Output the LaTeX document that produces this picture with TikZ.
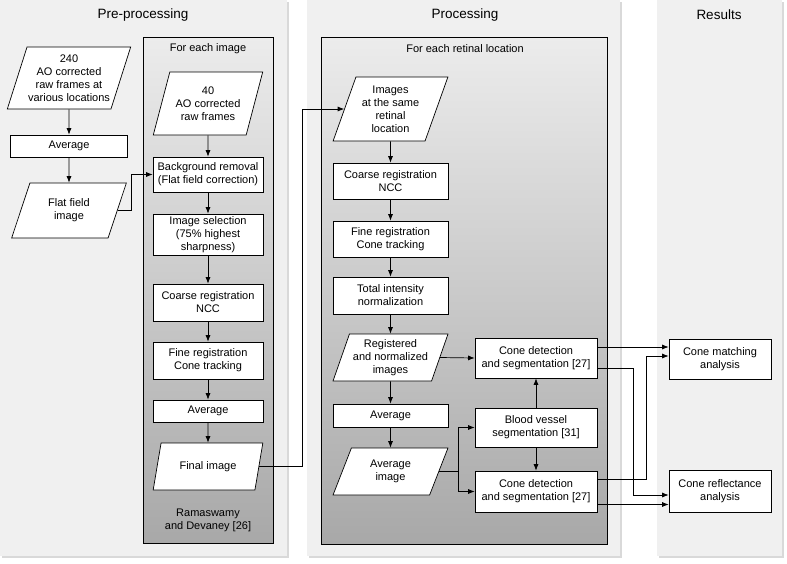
\documentclass[tikz,border=0pt]{standalone}
\usepackage{fontspec}
\setmainfont{Liberation Sans}
\usepackage{xcolor}
\definecolor{panel_gray}{RGB}{240,240,240}
\definecolor{shade_top}{RGB}{236,236,236}
\definecolor{shade_bottom}{RGB}{168,168,168}
\usetikzlibrary{shapes.geometric,arrows.meta,shadows}

\tikzset{
  proc_box/.style={draw, fill=white, line width=0.7pt, align=center, inner sep=1pt,
    font=\fontsize{11}{13}\selectfont},
  data_box/.style={proc_box, trapezium, trapezium left angle=68, trapezium right angle=112,
    trapezium stretches=true},
  arr/.style={-{Latex[length=6.5pt,width=5pt]}, line width=0.7pt},
  panel/.style={fill=panel_gray, drop shadow={shadow xshift=2pt, shadow yshift=-2pt, opacity=0.3}},
  loop_box/.style={draw, line width=0.7pt, top color=shade_top, bottom color=shade_bottom},
}

\begin{document}
\begin{tikzpicture}[x=1pt,y=-1pt]
\useasboundingbox (0,0) rectangle (787,563);

% panels
\fill[panel] (0,0) rectangle (287,556);
\fill[panel] (307,0) rectangle (620,556);
\fill[panel] (657,0) rectangle (782,556);
\draw[loop_box] (143,37) rectangle (273,543);
\draw[loop_box] (321,37) rectangle (607,544);

\draw (143,15) node (pre_title) {\fontsize{13.5}{16}\selectfont Pre-processing};
\draw (465,15) node (proc_title) {\fontsize{13.5}{16}\selectfont Processing};
\draw (719,15) node (res_title) {\fontsize{13.5}{16}\selectfont Results};
\draw (208,49) node (img_title) {\fontsize{11}{13}\selectfont For each image};
\draw (465,49) node (loc_title) {\fontsize{11}{13}\selectfont For each retinal location};

% pre-processing
\node[data_box, minimum width=116pt, minimum height=62pt] (raw240) at (69,78) {240\\AO corrected\\raw frames at\\various locations};
\node[proc_box, minimum width=117pt, minimum height=22pt] (avg_pre) at (69,146) {Average};
\node[data_box, minimum width=115pt, minimum height=55pt] (flat) at (69,210.5) {Flat field\\image};

\node[data_box, minimum width=110pt, minimum height=63pt] (raw40) at (208,103.5) {40\\AO corrected\\raw frames};
\node[proc_box, minimum width=110pt, minimum height=35pt] (bg_rem) at (208,174.5) {Background removal\\(Flat field correction)};
\node[proc_box, minimum width=110pt, minimum height=41pt] (img_sel) at (208,234.5) {Image selection\\(75\% highest\\sharpness)};
\node[proc_box, minimum width=110pt, minimum height=37pt] (coarse_pre) at (208,302.5) {Coarse registration\\NCC};
\node[proc_box, minimum width=110pt, minimum height=37pt] (fine_pre) at (208,360.5) {Fine registration\\Cone tracking};
\node[proc_box, minimum width=110pt, minimum height=22pt] (avg_img_pre) at (208,411) {Average};
\node[data_box, minimum width=110pt, minimum height=47pt] (final) at (208,466.5) {Final image};
\draw (208,520) node[align=center, font=\fontsize{11}{13}\selectfont] (ref26) {Ramaswamy\\and Devaney [26]};

% processing
\node[data_box, minimum width=115pt, minimum height=64pt] (same_loc) at (390.5,109) {Images\\at the same\\retinal\\location};
\node[proc_box, minimum width=115pt, minimum height=36pt] (coarse_proc) at (390.5,181) {Coarse registration\\NCC};
\node[proc_box, minimum width=115pt, minimum height=36pt] (fine_proc) at (390.5,239) {Fine registration\\Cone tracking};
\node[proc_box, minimum width=115pt, minimum height=37pt] (total_norm) at (390.5,295.5) {Total intensity\\normalization};
\node[data_box, minimum width=115pt, minimum height=47pt] (reg_norm) at (390.5,357.5) {Registered\\and normalized\\images};
\node[proc_box, minimum width=115pt, minimum height=23pt] (avg_proc) at (390.5,415.5) {Average};
\node[data_box, minimum width=115pt, minimum height=47pt] (avg_img) at (390.5,471.5) {Average\\image};

\node[proc_box, minimum width=122pt, minimum height=40pt] (cone_det1) at (536,358) {Cone detection\\and segmentation [27]};
\node[proc_box, minimum width=122pt, minimum height=39pt] (vessel) at (536,427.5) {Blood vessel\\segmentation [31]};
\node[proc_box, minimum width=122pt, minimum height=41pt] (cone_det2) at (536,491.5) {Cone detection\\and segmentation [27]};

% results
\node[proc_box, minimum width=102pt, minimum height=40pt] (cone_match) at (720,359) {Cone matching\\analysis};
\node[proc_box, minimum width=102pt, minimum height=42pt] (cone_refl) at (720,491) {Cone reflectance\\analysis};

% connectors
\foreach \a/\b in {raw240/avg_pre, avg_pre/flat, raw40/bg_rem, bg_rem/img_sel, img_sel/coarse_pre,
  coarse_pre/fine_pre, fine_pre/avg_img_pre, avg_img_pre/final, same_loc/coarse_proc,
  coarse_proc/fine_proc, fine_proc/total_norm, total_norm/reg_norm, reg_norm/avg_proc,
  avg_proc/avg_img, vessel/cone_det1, vessel/cone_det2}
  \draw[arr] (\a) -- (\b);

\draw[arr] (flat.east) -- ++(14,0) |- (bg_rem.west);
\draw[arr] (final.east) -- ++(43,0) |- (same_loc.west);
\draw[arr] (reg_norm.east) -- (cone_det1.west);
\draw[arr] (avg_img.east) -- ++(19,0) |- (vessel.west);
\draw[arr] (avg_img.east) -- ++(19,0) |- (cone_det2.west);

\draw[arr] ([yshift=11pt]cone_det1.east) -- ([yshift=11pt]cone_det1.east -| cone_match.west);
\draw[arr] ([yshift=-10pt]cone_det1.east) -- ++(36,0) |- ([yshift=-4pt]cone_refl.west);
\draw[arr] ([yshift=12pt]cone_det2.east) -- ++(49,0) |- ([yshift=3pt]cone_match.west);
\draw[arr] ([yshift=-13pt]cone_det2.east) -- ([yshift=-13pt]cone_det2.east -| cone_refl.west);

\end{tikzpicture}
\end{document}
